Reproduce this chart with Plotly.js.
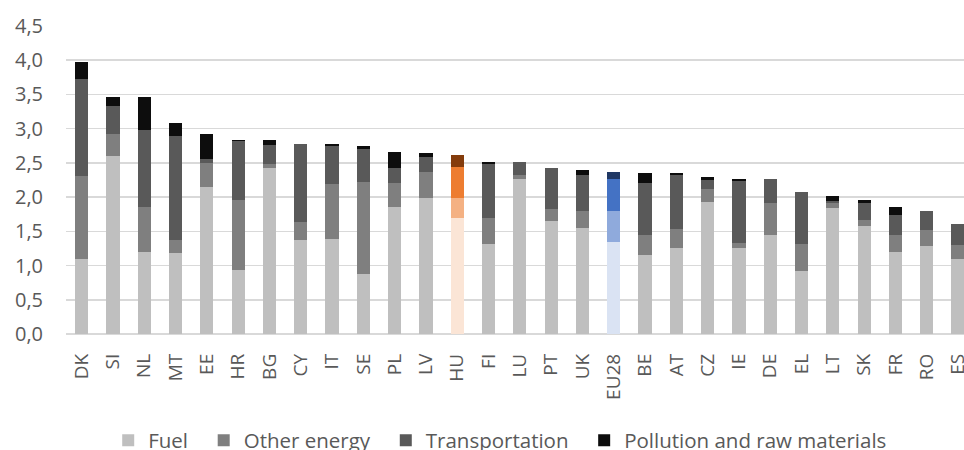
<!DOCTYPE html>
<html>
<head>
<meta charset="utf-8">
<script src="https://cdn.plot.ly/plotly-3.0.1.min.js"></script>
<style>
  html, body { margin: 0; padding: 0; overflow: hidden; background: #fff; }
  #chart { width: 964px; height: 450px; overflow: hidden; }
</style>
</head>
<body>
<div id="chart"></div>
<script>
// Environmental tax revenue by category, % of GDP
const countries = ["DK","SI","NL","MT","EE","HR","BG","CY","IT","SE","PL","LV","HU","FI","LU","PT","UK","EU28","BE","AT","CZ","IE","DE","EL","LT","SK","FR","RO","ES"];
const fuel           = [1.10,2.60,1.20,1.19,2.15,0.94,2.42,1.38,1.39,0.88,1.86,1.99,1.70,1.32,2.27,1.65,1.55,1.35,1.15,1.25,1.93,1.25,1.44,0.92,1.84,1.58,1.20,1.29,1.09];
const otherEnergy    = [1.21,0.32,0.66,0.19,0.35,1.02,0.07,0.25,0.80,1.34,0.35,0.38,0.29,0.38,0.05,0.18,0.24,0.44,0.30,0.29,0.19,0.08,0.48,0.40,0.07,0.09,0.25,0.23,0.21];
const transportation = [1.42,0.41,1.12,1.51,0.05,0.86,0.27,1.14,0.56,0.49,0.22,0.21,0.45,0.78,0.19,0.59,0.53,0.48,0.76,0.79,0.13,0.90,0.34,0.75,0.04,0.24,0.29,0.27,0.30];
const pollution      = [0.25,0.14,0.48,0.20,0.37,0.01,0.07,0.00,0.03,0.04,0.23,0.06,0.18,0.03,0.00,0.01,0.07,0.09,0.14,0.02,0.04,0.03,0.00,0.00,0.06,0.05,0.12,0.00,0.01];
const seriesNames = ["Fuel","Other energy","Transportation","Pollution and raw materials"];

// colour per series: default grey, Hungary in orange, EU average in blue
const palette = {
  base: ["#bfbfbf","#7f7f7f","#595959","#0d0d0d"],
  HU:   ["#fbe5d6","#f4b183","#ed7d31","#843c0c"],
  EU28: ["#dae3f3","#8faadc","#4472c4","#203864"]
};

// a little extra room after each legend entry
const legendPad = "\u00a0\u00a0";

const values = [fuel, otherEnergy, transportation, pollution];
const traces = values.map((vals, s) => ({
  type: "bar",
  name: seriesNames[s] + (s < seriesNames.length - 1 ? legendPad : ""),
  x: countries,
  y: vals,
  marker: {
    color: countries.map(c => (palette[c] || palette.base)[s]),
    line: { width: 0 }
  },
  hoverinfo: "x+y+name"
}));

const textColor = "#595959";
// the figure runs a little past the bottom of the frame, so the legend sits low
const layout = {
  width: 964,
  height: 466,
  barmode: "stack",
  bargap: 0.58,
  separators: ",.",
  paper_bgcolor: "#ffffff",
  plot_bgcolor: "#ffffff",
  margin: { l: 66, r: 0, t: 26, b: 132, pad: 0 },
  font: { family: "Open Sans, sans-serif", color: textColor, size: 18 },
  showlegend: true,
  legend: {
    orientation: "h",
    x: 0.047, xanchor: "left",
    y: -0.281, yanchor: "top",
    font: { size: 20.5, color: textColor },
    traceorder: "normal",
    itemwidth: 30
  },
  xaxis: {
    type: "category",
    range: [-0.5, 28.19],
    automargin: false,
    tickangle: -90,
    ticks: "",
    showgrid: false,
    showline: false,
    zeroline: false,
    tickfont: { size: 19, color: textColor },
    ticklabelstandoff: 15
  },
  yaxis: {
    range: [0, 4.5],
    automargin: false,
    dtick: 0.5,
    tickformat: ".1f",
    ticks: "",
    showgrid: true,
    gridcolor: "#d9d9d9",
    gridwidth: 1.5,
    zeroline: true,
    zerolinecolor: "#d9d9d9",
    zerolinewidth: 1.5,
    showline: false,
    tickfont: { size: 20, color: textColor },
    ticklabelstandoff: 22
  }
};

Plotly.newPlot("chart", traces, layout, { displayModeBar: false, staticPlot: true });
</script>
</body>
</html>
